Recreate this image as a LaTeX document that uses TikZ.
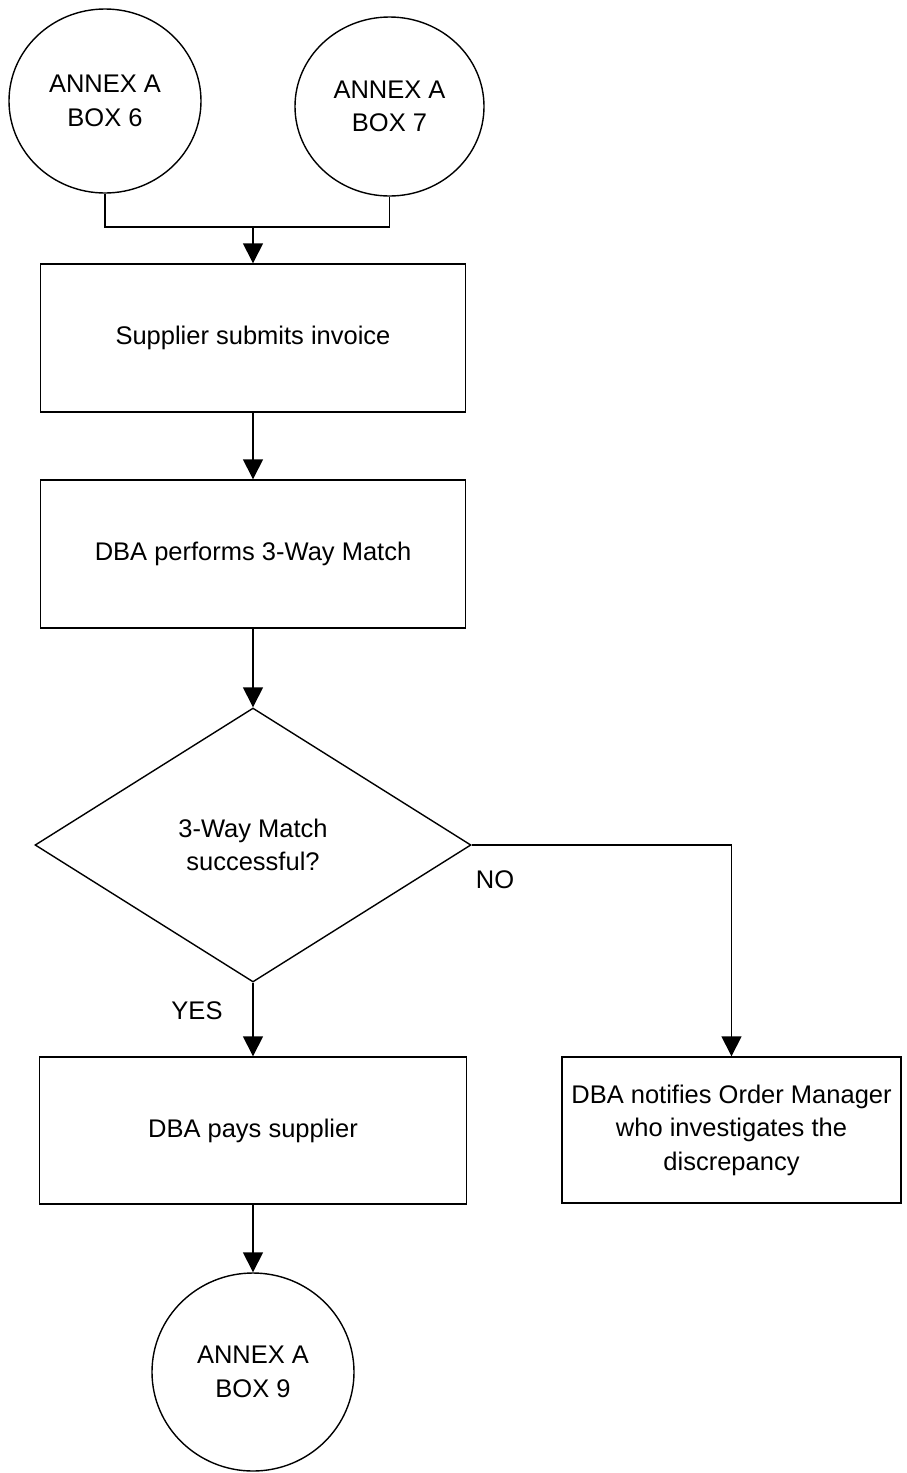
\documentclass[tikz,border=0pt]{standalone}
\usepackage{fontspec}
\setmainfont{Liberation Sans}
\usetikzlibrary{shapes.geometric,arrows.meta}
\tikzset{
  base/.style={draw=black, line width=1.4pt, inner sep=0pt, align=center,
    font=\fontsize{25.5}{33.5}\selectfont},
  procbox/.style={base, rectangle},
  connector/.style={base, ellipse},
  decision/.style={base, diamond},
  flow/.style={line width=1.4pt, -{Triangle[length=20pt,width=20pt]}},
  plainline/.style={line width=1.4pt},
  lbl/.style={font=\fontsize{25.5}{33.5}\selectfont, inner sep=0pt}
}
\begin{document}
\begin{tikzpicture}[x=1pt,y=-1pt]
\path[use as bounding box] (0,0) rectangle (907,1473);
\node[connector, minimum width=192pt, minimum height=184pt] (c6) at (105,101) {ANNEX A\\BOX 6};
\node[connector, minimum width=189pt, minimum height=179pt] (c7) at (389.5,106.5) {ANNEX A\\BOX 7};
\node[procbox, minimum width=425pt, minimum height=148pt] (b1) at (253,338) {Supplier submits invoice};
\node[procbox, minimum width=425pt, minimum height=148pt] (b2) at (253,554) {DBA performs 3-Way Match};
\node[decision, minimum width=436pt, minimum height=274pt] (d) at (253,845) {3-Way Match\\successful?};
\node[procbox, minimum width=427pt, minimum height=147pt] (b3) at (253,1130.5) {DBA pays supplier};
\node[procbox, minimum width=339pt, minimum height=146pt] (b4) at (731.5,1130) {DBA notifies Order Manager\\who investigates the\\discrepancy};
\node[connector, minimum width=202pt, minimum height=198pt] (c9) at (253,1372) {ANNEX A\\BOX 9};
\node[lbl] (yes) at (197,1011) {YES};
\node[lbl] (no) at (495,880) {NO};
\coordinate (j) at (253,227);
\draw[plainline] (c6.south) |- (j);
\draw[plainline] (c7.south) |- (j);
\draw[flow] (j) -- (b1.north);
\draw[flow] (b1.south) -- (b2.north);
\draw[flow] (b2.south) -- (d.north);
\draw[flow] (d.south) -- (b3.north);
\draw[flow] (d.east) -| (b4.north);
\draw[flow] (b3.south) -- (c9.north);
\end{tikzpicture}
\end{document}
